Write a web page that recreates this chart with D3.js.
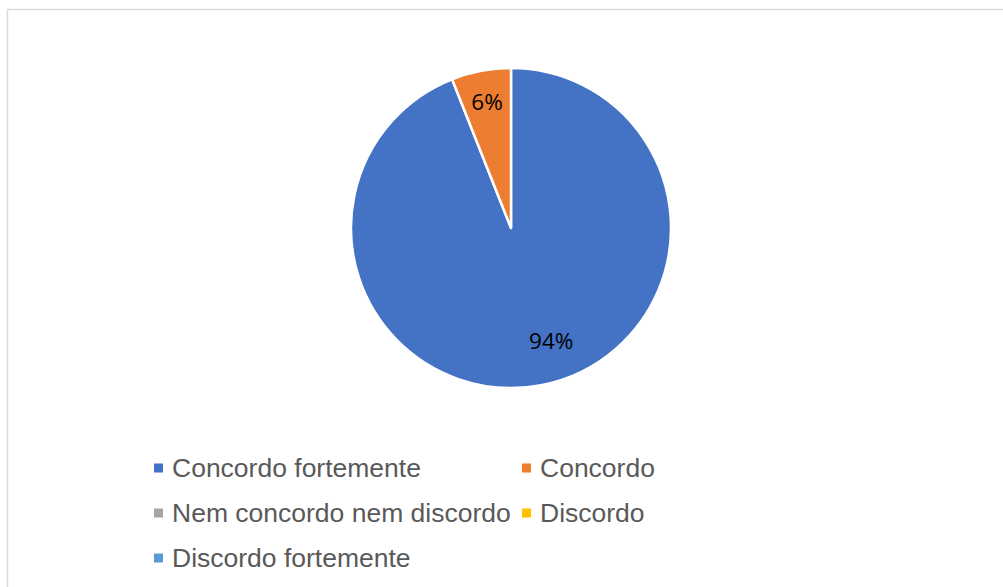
<!DOCTYPE html>
<html><head><meta charset="utf-8">
<script src="https://cdn.jsdelivr.net/npm/d3@7"></script>
<style>html,body{margin:0;padding:0;background:#fff;overflow:hidden}</style>
</head><body>
<svg id="c" width="1003" height="587"></svg>
<script>
const categories = ["Concordo fortemente","Concordo","Nem concordo nem discordo","Discordo","Discordo fortemente"];
const values = [94, 6, 0, 0, 0];
const colors = ["#4472C4","#ED7D31","#A5A5A5","#FFC000","#5B9BD5"];

const svg = d3.select("#c");
svg.append("rect").attr("x",7.5).attr("y",9.5).attr("width",1100).attr("height",700)
  .attr("fill","#fff").attr("stroke","#d9d9d9").attr("stroke-width",1.5);

const cx = 511, cy = 228, r = 160;
const data = categories.map((c,i)=>({cat:c, value:values[i], color:colors[i]}));
const pie = d3.pie().value(d=>d.value).sort(null);
const arc = d3.arc().innerRadius(0).outerRadius(r);
const total = d3.sum(values);

const g = svg.append("g").attr("transform",`translate(${cx},${cy})`);
const arcs = pie(data);
g.selectAll("path").data(arcs.filter(a=>a.data.value>0)).join("path")
  .attr("d",arc).attr("fill",d=>d.data.color)
  .attr("stroke","#fff").attr("stroke-width",2.5).attr("stroke-linejoin","round");

// best-fit style label placement inside each slice
function labelPos(d){
  const big = (d.endAngle-d.startAngle) > Math.PI;
  const a = d.startAngle + (d.endAngle-d.startAngle)*(big?0.474:0.5);
  const lr = r*(big?0.75:0.80);
  return [lr*Math.sin(a), -lr*Math.cos(a)];
}
g.selectAll("text.lbl").data(arcs.filter(a=>a.data.value>0)).join("text")
  .attr("class","lbl")
  .attr("transform",d=>{const [x,y]=labelPos(d); return `translate(${x},${y})`;})
  .attr("text-anchor","middle").attr("dy","0.35em")
  .attr("font-family","'Open Sans', Lato, sans-serif").attr("font-size",22.5).attr("fill","#000")
  .text(d=>Math.round(d.data.value/total*100)+"%");

// legend
const colX = [154, 522], rowY = [468, 513, 558];
const leg = svg.append("g");
data.forEach((d,i)=>{
  const col = i%2, row = Math.floor(i/2);
  const x = colX[col], y = rowY[row];
  leg.append("rect").attr("x",x).attr("y",y-4.5).attr("width",9).attr("height",9).attr("fill",d.color);
  leg.append("text").attr("x",x+18).attr("y",y).attr("dy","0.35em")
    .attr("font-family","'Liberation Sans', Arial, sans-serif").attr("font-size",26.5)
    .attr("fill","#595959").text(d.cat);
});
</script>
</body></html>
